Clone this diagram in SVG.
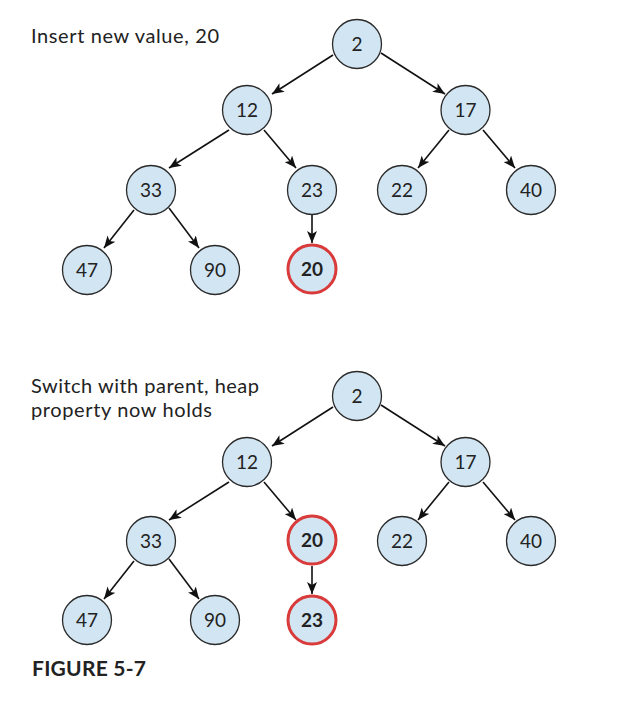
<svg xmlns="http://www.w3.org/2000/svg" width="620" height="706" viewBox="0 0 620 706">
<defs>
<marker id="ah" viewBox="0 0 12 10" refX="12" refY="5" markerWidth="12" markerHeight="10" markerUnits="userSpaceOnUse" orient="auto">
<path d="M0,0 L12,5 L0,10 L3,5 Z" fill="#111"/>
</marker>
</defs>
<style>
.n{fill:#d2e5f2;stroke:#2a2a2a;stroke-width:1.3}
.r{fill:#d2e5f2;stroke:#d93a3a;stroke-width:3}
.t{font-family:"Lato","Open Sans","Liberation Sans",sans-serif;font-size:19px;fill:#222;text-anchor:middle}
.b{font-weight:bold}
.e{stroke:#111;stroke-width:1.6;fill:none;marker-end:url(#ah)}
.lbl{font-family:"Lato","Open Sans","Liberation Sans",sans-serif;font-size:20px;fill:#222}
</style>
<rect width="620" height="706" fill="#fff"/>
<text class="lbl" x="31" y="43" textLength="188">Insert new value, 20</text>
<text class="lbl" x="31" y="393" textLength="228">Switch with parent, heap</text>
<text class="lbl" x="31" y="416.5" textLength="181">property now holds</text>
<text class="lbl b" x="32" y="676" style="font-size:21px" textLength="114">FIGURE 5-7</text>
<g id="connectors">
<line class="e" x1="333" y1="55" x2="272" y2="94"/>
<line class="e" x1="381" y1="53" x2="445" y2="94"/>
<line class="e" x1="229" y1="130" x2="169" y2="168"/>
<line class="e" x1="264" y1="130" x2="296" y2="168"/>
<line class="e" x1="449" y1="130" x2="418" y2="168"/>
<line class="e" x1="483" y1="130" x2="515" y2="168"/>
<line class="e" x1="134" y1="210" x2="104" y2="248"/>
<line class="e" x1="169" y1="208" x2="199" y2="248"/>
<line class="e" x1="312" y1="215" x2="312" y2="243"/>
<line class="e" x1="333" y1="407" x2="272" y2="446"/>
<line class="e" x1="381" y1="405" x2="445" y2="446"/>
<line class="e" x1="229" y1="482" x2="169" y2="520"/>
<line class="e" x1="264" y1="482" x2="296" y2="520"/>
<line class="e" x1="449" y1="482" x2="418" y2="520"/>
<line class="e" x1="483" y1="482" x2="515" y2="520"/>
<line class="e" x1="134" y1="561" x2="104" y2="599"/>
<line class="e" x1="169" y1="559" x2="199" y2="599"/>
<line class="e" x1="312" y1="566" x2="312" y2="594"/>
</g>
<g id="a2"><circle class="n" cx="357" cy="44" r="24.5"/><text class="t" x="357" y="50.5">2</text></g>
<g id="a12"><circle class="n" cx="247" cy="110" r="24.5"/><text class="t" x="247" y="116.5">12</text></g>
<g id="a17"><circle class="n" cx="465.5" cy="110" r="24.5"/><text class="t" x="465.5" y="116.5">17</text></g>
<g id="a33"><circle class="n" cx="151" cy="190" r="24.5"/><text class="t" x="151" y="196.5">33</text></g>
<g id="a23"><circle class="n" cx="312" cy="190" r="24.5"/><text class="t" x="312" y="196.5">23</text></g>
<g id="a22"><circle class="n" cx="402" cy="190" r="24.5"/><text class="t" x="402" y="196.5">22</text></g>
<g id="a40"><circle class="n" cx="531" cy="190" r="24.5"/><text class="t" x="531" y="196.5">40</text></g>
<g id="a47"><circle class="n" cx="87" cy="270" r="24.5"/><text class="t" x="87" y="276.5">47</text></g>
<g id="a90"><circle class="n" cx="215" cy="270" r="24.5"/><text class="t" x="215" y="276.5">90</text></g>
<g id="a20"><circle class="r" cx="312" cy="269" r="24"/><text class="t b" x="312" y="275.5">20</text></g>
<g id="b2"><circle class="n" cx="357" cy="396" r="24.5"/><text class="t" x="357" y="402.5">2</text></g>
<g id="b12"><circle class="n" cx="247" cy="462" r="24.5"/><text class="t" x="247" y="468.5">12</text></g>
<g id="b17"><circle class="n" cx="465.5" cy="462" r="24.5"/><text class="t" x="465.5" y="468.5">17</text></g>
<g id="b33"><circle class="n" cx="151" cy="541" r="24.5"/><text class="t" x="151" y="547.5">33</text></g>
<g id="b20"><circle class="r" cx="312" cy="540" r="24"/><text class="t b" x="312" y="546.5">20</text></g>
<g id="b22"><circle class="n" cx="402" cy="541" r="24.5"/><text class="t" x="402" y="547.5">22</text></g>
<g id="b40"><circle class="n" cx="531" cy="541" r="24.5"/><text class="t" x="531" y="547.5">40</text></g>
<g id="b47"><circle class="n" cx="87" cy="620" r="24.5"/><text class="t" x="87" y="626.5">47</text></g>
<g id="b90"><circle class="n" cx="215" cy="620" r="24.5"/><text class="t" x="215" y="626.5">90</text></g>
<g id="b23"><circle class="r" cx="312" cy="620" r="24"/><text class="t b" x="312" y="626.5">23</text></g>
</svg>
